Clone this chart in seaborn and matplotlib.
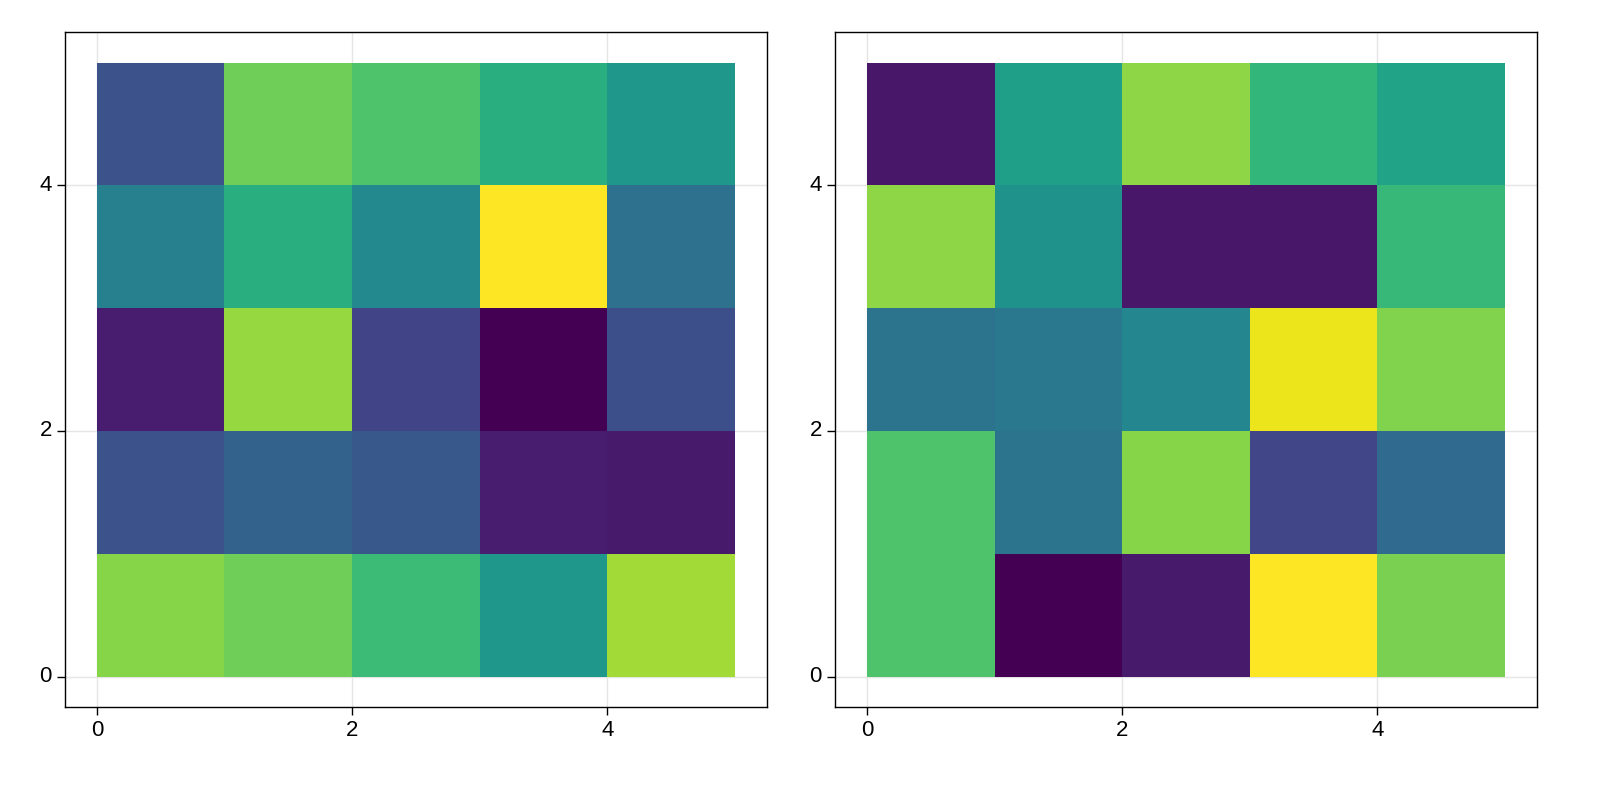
import numpy as np
import matplotlib
matplotlib.use('Agg')
import matplotlib.pyplot as plt
import seaborn as sns

# rows listed from y=0 (bottom) to y=4 (top)
left_values = [
    [0.82, 0.78, 0.68, 0.53, 0.86],
    [0.25, 0.31, 0.27, 0.08, 0.07],
    [0.08, 0.84, 0.20, 0.00, 0.24],
    [0.43, 0.63, 0.47, 1.00, 0.37],
    [0.25, 0.78, 0.72, 0.63, 0.53],
]
right_values = [
    [0.72, 0.00, 0.07, 1.00, 0.80],
    [0.72, 0.38, 0.82, 0.21, 0.34],
    [0.38, 0.40, 0.46, 0.97, 0.81],
    [0.83, 0.51, 0.06, 0.06, 0.67],
    [0.06, 0.56, 0.83, 0.66, 0.58],
]
ticks = [0, 2, 4]

sns.set_style('white')
plt.rcParams['font.family'] = ['Liberation Sans', 'DejaVu Sans']

fig, axes = plt.subplots(1, 2, figsize=(16, 8), dpi=100)
fig.subplots_adjust(left=0.0406, right=0.9606, top=0.96, bottom=0.116, wspace=0.097)

for ax, vals in zip(axes, [left_values, right_values]):
    sns.heatmap(np.array(vals), cmap='viridis', cbar=False, ax=ax, square=False)
    ax.set_xlim(-0.25, 5.25)
    ax.set_ylim(-0.25, 5.25)
    ax.set_xticks(ticks)
    ax.set_yticks(ticks)
    ax.set_xticklabels([str(t) for t in ticks], fontsize=16, rotation=0, color='black')
    ax.set_yticklabels([str(t) for t in ticks], fontsize=16, rotation=0, color='black')
    ax.set_axisbelow(True)
    ax.grid(True, color='#e5e5e5', linewidth=1)
    ax.tick_params(length=6, width=1, left=True, bottom=True, color='black')
    for s in ax.spines.values():
        s.set_visible(True)
        s.set_color('black')
        s.set_linewidth(1)

plt.savefig('out.png', dpi=100)
